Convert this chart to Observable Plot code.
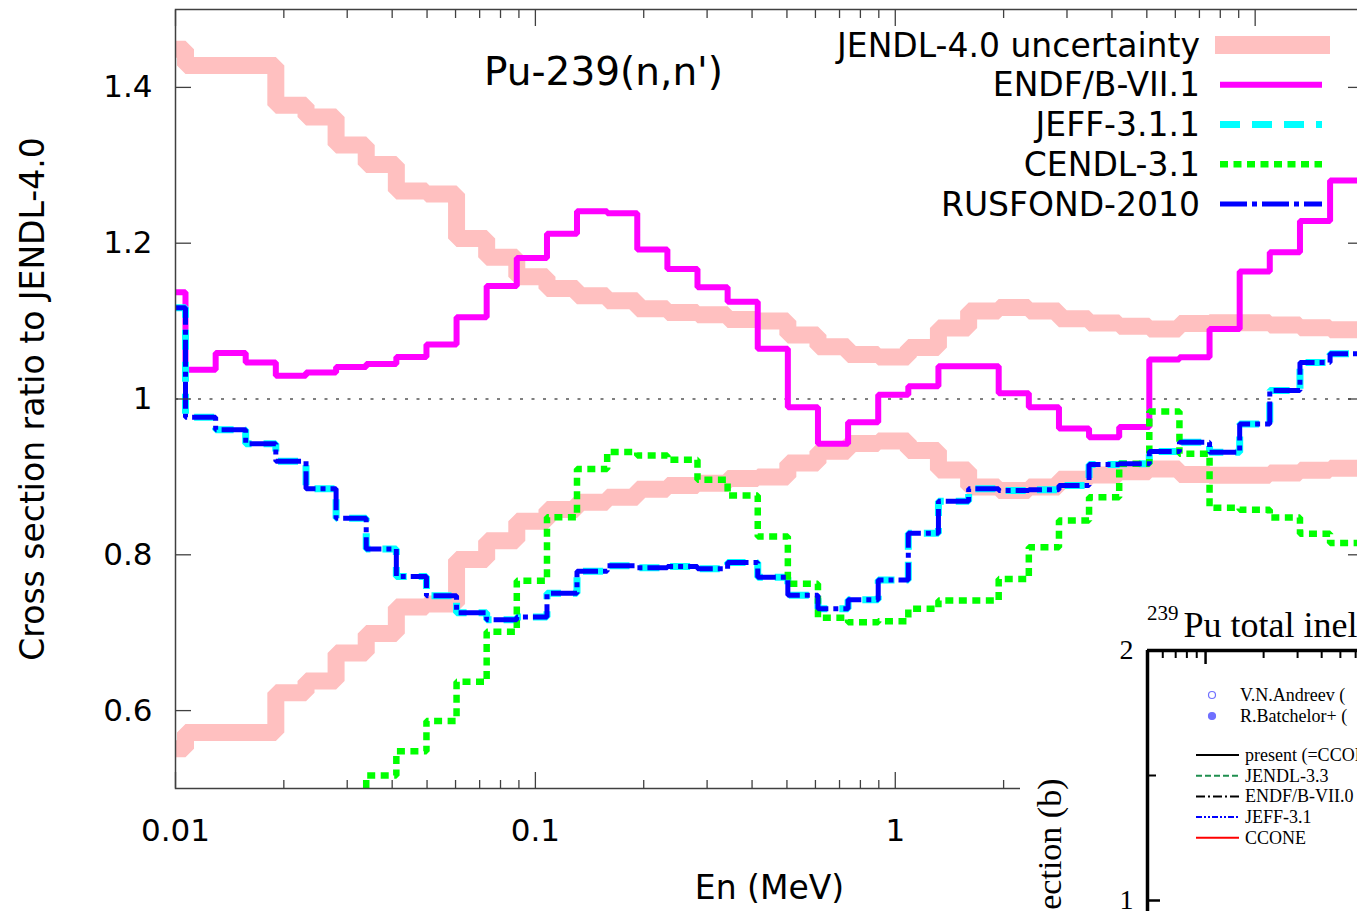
<!DOCTYPE html>
<html>
<head>
<meta charset="utf-8">
<script src="https://cdn.jsdelivr.net/npm/d3@7"></script>
<script src="https://cdn.jsdelivr.net/npm/@observablehq/plot@0.6"></script>
<style>
  html, body { margin: 0; padding: 0; background: #fff; overflow: hidden; width: 1357px; height: 911px; }
  #main { position: absolute; left: 0; top: 0; width: 1380px; }
  #inset { position: absolute; left: 1020px; top: 592px; width: 360px; background: #fff; }
  svg { max-width: none !important; }
</style>
</head>
<body>
<div id="main"></div>
<div id="inset"></div>
<script>
// Group boundaries in MeV (lower edge of each group, last entry closes the final group)
const edges = [0.01, 0.01066, 0.01293, 0.01567, 0.01900, 0.02305, 0.02794, 0.03388, 0.04108,
  0.04981, 0.06039, 0.07322, 0.08878, 0.1077, 0.1305, 0.1583, 0.1919, 0.2327, 0.2821, 0.3421,
  0.4148, 0.5029, 0.6098, 0.7394, 0.8966, 1.087, 1.318, 1.599, 1.938, 2.350, 2.850, 3.455,
  4.190, 5.080, 6.160, 7.469, 9.057, 10.98, 13.32, 16.15, 20];

// JENDL-4.0 relative uncertainty per group
const uncertainty = [0.449, 0.428, 0.428, 0.428, 0.377, 0.362, 0.326, 0.301, 0.267, 0.263,
  0.206, 0.182, 0.157, 0.142, 0.1325, 0.126, 0.116, 0.111, 0.108, 0.102,
  0.100, 0.082, 0.067, 0.057, 0.054, 0.066, 0.091, 0.113, 0.1175, 0.113,
  0.103, 0.0975, 0.0935, 0.090, 0.097, 0.098, 0.098, 0.095, 0.0915, 0.089];

// Ratios to JENDL-4.0 per group
const endf71 = [1.137, 1.0375, 1.059, 1.047, 1.030, 1.034, 1.041, 1.045, 1.054, 1.070,
  1.105, 1.145, 1.181, 1.212, 1.241, 1.2385, 1.192, 1.167, 1.1435, 1.125,
  1.0644, 0.9895, 0.9425, 0.970, 1.0054, 1.0165, 1.042, 1.042, 1.0075, 0.9895,
  0.962, 0.951, 0.964, 1.0507, 1.0537, 1.090, 1.1637, 1.1885, 1.2285, 1.2805];

const jeff311 = [1.117, 0.9766, 0.9605, 0.9425, 0.920, 0.8847, 0.847, 0.8075, 0.772, 0.7473,
  0.7256, 0.7166, 0.7200, 0.7507, 0.779, 0.786, 0.7833, 0.785, 0.782, 0.790,
  0.7711, 0.7480, 0.7307, 0.7423, 0.7677, 0.8276, 0.8688, 0.8847, 0.8825, 0.8834,
  0.889, 0.916, 0.917, 0.9325, 0.9446, 0.9318, 0.968, 1.011, 1.047, 1.058];

// CENDL-3.1 starts at group index 6 of the edge list
const cendlFirst = 6;
const cendl31 = [0.47, 0.5167, 0.5479, 0.5868, 0.637, 0.7013, 0.7668, 0.8483, 0.910, 0.932,
  0.9275, 0.922, 0.8963, 0.876, 0.8235, 0.7628, 0.7191, 0.7135, 0.7148, 0.7307,
  0.7413, 0.7413, 0.769, 0.8098, 0.844, 0.874, 0.917, 0.984, 0.9296, 0.8603,
  0.8578, 0.848, 0.827, 0.815];

const rusfond2010 = [1.117, 0.9766, 0.9605, 0.9425, 0.920, 0.8847, 0.847, 0.8075, 0.772, 0.7473,
  0.7256, 0.7166, 0.7200, 0.7507, 0.779, 0.786, 0.7833, 0.785, 0.782, 0.790,
  0.7711, 0.7480, 0.7307, 0.7423, 0.7677, 0.8276, 0.8688, 0.8847, 0.8825, 0.8834,
  0.889, 0.916, 0.917, 0.9325, 0.9446, 0.9318, 0.968, 1.011, 1.047, 1.058];

const xMajorTicks = [0.01, 0.1, 1, 10];
const xMinorTicks = [0.02, 0.03, 0.04, 0.05, 0.06, 0.07, 0.08, 0.09,
  0.2, 0.3, 0.4, 0.5, 0.6, 0.7, 0.8, 0.9, 2, 3, 4, 5, 6, 7, 8, 9];
const yTicks = [0.6, 0.8, 1, 1.2, 1.4];
const legendLabels = ["JENDL-4.0 uncertainty", "ENDF/B-VII.1", "JEFF-3.1.1", "CENDL-3.1", "RUSFOND-2010"];

// histogram-style points: one point per group edge, last value repeated at the closing edge
function steps(values, first = 0) {
  const pts = values.map((v, i) => ({E: edges[first + i], v}));
  pts.push({E: edges[first + values.length], v: values[values.length - 1]});
  return pts;
}

const styles = {
  band:    {stroke: "#ffc0c0", strokeWidth: 17},
  endf:    {stroke: "#ff00ff", strokeWidth: 6},
  jeff:    {stroke: "#00ffff", strokeWidth: 7, strokeDasharray: "20,12"},
  cendl:   {stroke: "#00ff00", strokeWidth: 6.5, strokeDasharray: "8,5.5"},
  rusfond: {stroke: "#0000ff", strokeWidth: 5, strokeDasharray: "27,5,5,5"}
};

const W = 1380, H = 911;
const frameLeft = 175, frameRight = 1363, frameTop = 9, frameBottom = 788;
const sans = "'DejaVu Sans', 'Liberation Sans', sans-serif";
const axisColor = "#404040";
const common = {x: "E", y: "v", curve: "step-after", clip: true, strokeLinejoin: "miter", strokeLinecap: "butt"};

const chart = Plot.plot({
  width: W, height: H,
  marginLeft: frameLeft, marginRight: W - frameRight, marginTop: frameTop, marginBottom: H - frameBottom,
  x: {type: "log", domain: [0.01, 20], axis: null},
  y: {domain: [0.5, 1.5], axis: null},
  style: {fontFamily: sans, background: "white", color: "#000", maxWidth: "none"},
  marks: [
    Plot.line(steps(uncertainty.map(u => 1 + u)), {...common, ...styles.band}),
    Plot.line(steps(uncertainty.map(u => 1 - u)), {...common, ...styles.band}),
    Plot.ruleY([1], {stroke: "#555", strokeWidth: 1.5, strokeDasharray: "3,8.5"}),
    Plot.line(steps(endf71), {...common, ...styles.endf}),
    Plot.line(steps(jeff311), {...common, ...styles.jeff}),
    Plot.line(steps(cendl31, cendlFirst), {...common, ...styles.cendl}),
    Plot.line(steps(rusfond2010), {...common, ...styles.rusfond}),
    Plot.frame({stroke: axisColor, strokeWidth: 1.5}),
    // inward ticks on all four sides
    Plot.axisX(xMajorTicks, {anchor: "bottom", tickSize: -16, fill: "none", stroke: axisColor, strokeWidth: 1.3, label: null}),
    Plot.axisX(xMinorTicks, {anchor: "bottom", tickSize: -8, fill: "none", stroke: axisColor, strokeWidth: 1.3, label: null}),
    Plot.axisX(xMajorTicks, {anchor: "top", tickSize: -16, fill: "none", stroke: axisColor, strokeWidth: 1.3, label: null}),
    Plot.axisX(xMinorTicks, {anchor: "top", tickSize: -8, fill: "none", stroke: axisColor, strokeWidth: 1.3, label: null}),
    Plot.axisY(yTicks, {anchor: "left", tickSize: -16, fill: "none", stroke: axisColor, strokeWidth: 1.3, label: null}),
    Plot.axisY(yTicks, {anchor: "right", tickSize: -16, fill: "none", stroke: axisColor, strokeWidth: 1.3, label: null}),
    // tick labels
    Plot.axisX(xMajorTicks, {anchor: "bottom", tickSize: 0, tickPadding: 30, fontSize: 31, tickFormat: d => String(d), label: null}),
    Plot.axisY(yTicks, {anchor: "left", tickSize: 0, tickPadding: 23, fontSize: 31, tickFormat: d => String(d), label: null}),
    // axis titles and chart title
    Plot.text(["En (MeV)"], {text: d => d, frameAnchor: "bottom", dy: 100, fontSize: 33, textAnchor: "middle", lineAnchor: "middle"}),
    Plot.text(["Cross section ratio to JENDL-4.0"], {text: d => d, frameAnchor: "left", dx: 33 - frameLeft, rotate: -90, fontSize: 33, textAnchor: "middle", lineAnchor: "middle"}),
    Plot.text(["Pu-239(n,n')"], {text: d => d, frameAnchor: "top-left", dx: 603 - frameLeft, dy: 72 - frameTop, fontSize: 39, textAnchor: "middle", lineAnchor: "middle"})
  ]
});
document.getElementById("main").appendChild(chart);

// key, top right inside the frame
const key = d3.select(chart).append("g").attr("font-family", sans).attr("font-size", 33);
const keyStyles = [styles.band, styles.endf, styles.jeff, styles.cendl, styles.rusfond];
legendLabels.forEach((label, i) => {
  const y = 45 + 39.75 * i;
  key.append("text").attr("x", 1200).attr("y", y).attr("dy", "0.35em")
    .attr("text-anchor", "end").attr("fill", "#000").text(label);
  const s = keyStyles[i];
  key.append("line")
    .attr("x1", i === 0 ? 1215 : 1220).attr("x2", i === 0 ? 1330 : 1322)
    .attr("y1", y).attr("y2", y)
    .attr("stroke", s.stroke)
    .attr("stroke-width", i === 0 ? 18 : s.strokeWidth)
    .attr("stroke-dasharray", s.strokeDasharray || null);
});

// ---- overlaid excerpt of a second figure: 239Pu total inelastic cross section ----
const insetMinorTicks = [0.6, 0.7, 0.8, 0.9, 2, 3, 4, 5, 6];
const insetMajorTicks = [1];
const insetYTicks = [1, 2];
const insetKeyPoints = ["V.N.Andreev (", "R.Batchelor+ ("];
const insetKeyLines = ["present (=CCONE)", "JENDL-3.3", "ENDF/B-VII.0", "JEFF-3.1", "CCONE"];
const serif = "'Liberation Serif', 'Times New Roman', serif";

const inset = Plot.plot({
  width: 360, height: 330,
  marginLeft: 127, marginTop: 58, marginRight: 0, marginBottom: 0,
  x: {type: "log", domain: [0.5, 20], range: [127, 436], axis: null},
  y: {domain: [1, 2], range: [308, 58], axis: null},
  style: {fontFamily: serif, background: "white", color: "#000", maxWidth: "none"},
  marks: [
    Plot.ruleX([0.5], {stroke: "#000", strokeWidth: 3.5}),
    Plot.ruleY([2], {stroke: "#000", strokeWidth: 3.5}),
    Plot.axisX(insetMinorTicks, {anchor: "top", tickSize: -7, fill: "none", stroke: "#000", strokeWidth: 2, label: null}),
    Plot.axisX(insetMajorTicks, {anchor: "top", tickSize: -13, fill: "none", stroke: "#000", strokeWidth: 2.5, label: null}),
    Plot.axisY([1.5], {anchor: "left", tickSize: -9, fill: "none", stroke: "#000", strokeWidth: 2, label: null}),
    Plot.axisY([1], {anchor: "left", tickSize: -13, fill: "none", stroke: "#000", strokeWidth: 2.5, label: null}),
    Plot.axisY(insetYTicks, {anchor: "left", tickSize: 0, tickPadding: 14, fontSize: 28, tickFormat: d => String(d), label: null}),
    Plot.text(["Cross section (b)"], {text: d => d, frameAnchor: "top-left", dx: 30 - 127, dy: 186 - 58, rotate: -90, textAnchor: "end", lineAnchor: "middle", fontSize: 34})
  ]
});
document.getElementById("inset").appendChild(inset);

const isvg = d3.select(inset);
const ttl = isvg.append("text").attr("x", 127).attr("y", 45).attr("text-anchor", "start")
  .attr("font-family", serif).attr("font-size", 36).attr("fill", "#000");
ttl.append("tspan").attr("font-size", 21).attr("dy", -17).text("239");
ttl.append("tspan").attr("dy", 17).attr("dx", 5).text("Pu total inelastic");

const ik = isvg.append("g").attr("font-family", serif).attr("font-size", 18)
  .attr("fill", "#000").attr("text-anchor", "start");
const pointColor = "#7070ff";
insetKeyPoints.forEach((label, i) => {
  const y = 103 + 21 * i;
  ik.append("circle").attr("cx", 192).attr("cy", y).attr("r", 3.5)
    .attr("fill", i === 0 ? "none" : pointColor).attr("stroke", pointColor).attr("stroke-width", 1.2);
  ik.append("text").attr("x", 220).attr("y", y).attr("dy", "0.33em").text(label);
});
const insetLineStyles = [
  {stroke: "#000", dash: null},
  {stroke: "#1f8f4f", dash: "6,3"},
  {stroke: "#000", dash: "9,3,2,3"},
  {stroke: "#0000ff", dash: "6,2,2,2,2,2"},
  {stroke: "#ff0000", dash: null}
];
insetKeyLines.forEach((label, i) => {
  const y = 163 + 20.7 * i;
  const s = insetLineStyles[i];
  ik.append("line").attr("x1", 176).attr("x2", 219).attr("y1", y).attr("y2", y)
    .attr("stroke", s.stroke).attr("stroke-width", 2).attr("stroke-dasharray", s.dash);
  ik.append("text").attr("x", 225).attr("y", y).attr("dy", "0.33em").text(label);
});
</script>
</body>
</html>
